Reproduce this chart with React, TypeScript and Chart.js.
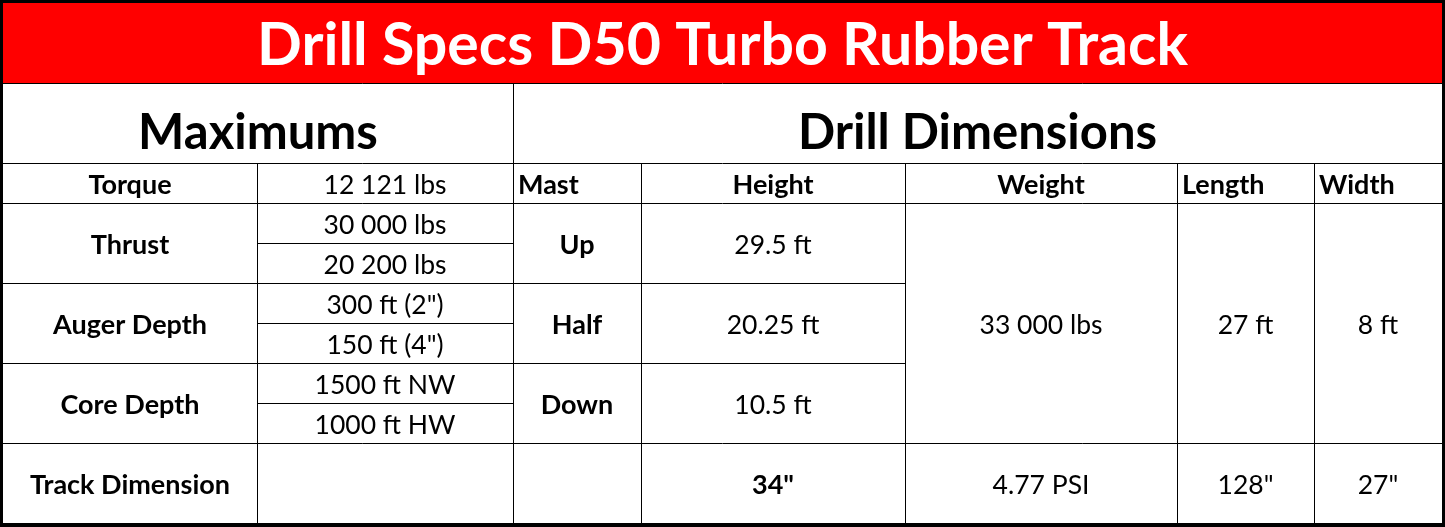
import React, { useEffect, useRef } from "react";
import { Chart, registerables } from "chart.js";

Chart.register(...registerables);

// ---------- data ----------
const TITLE = "Drill Specs D50 Turbo Rubber Track";
const SECTION_HEADERS = ["Maximums", "Drill Dimensions"];
const MAX_LABELS = ["Torque", "Thrust", "Auger Depth", "Core Depth", "Track Dimension"];
const MAX_VALUES: string[][] = [
  ["12 121 lbs"],
  ["30 000 lbs", "20 200 lbs"],
  ["300 ft (2\")", "150 ft (4\")"],
  ["1500 ft NW", "1000 ft HW"],
  [""],
];
const DIM_HEADERS = ["Mast", "Height", "Weight", "Length", "Width"];
const MAST_POSITIONS = ["Up", "Half", "Down"];
const MAST_HEIGHTS = ["29.5 ft", "20.25 ft", "10.5 ft"];
const DRILL_WEIGHT = "33 000 lbs";
const DRILL_LENGTH = "27 ft";
const DRILL_WIDTH = "8 ft";
const TRACK_VALUES = ["", "34\"", "4.77 PSI", "128\"", "27\""];

// ---------- layout (grid units on the chart's own linear scales) ----------
const W = 1445;
const H = 527;
const COL_X = [3, 257, 513, 641, 905, 1177, 1314, 1442];
const ROW_Y = [3, 83, 163, 203, 243, 283, 323, 363, 403, 443, 523];
// row-index spans of the "Maximums" groups
const MAX_SPANS = [
  [2, 3],
  [3, 5],
  [5, 7],
  [7, 9],
  [9, 10],
];
const FONT = "Lato";
const TITLE_SIZE = 59;
const SECTION_SIZE = 49;
const BOLD_SIZE = 27;
const REG_SIZE = 26.5;
const CAP = 0.7165;

const tablePlugin = {
  id: "tablePlugin",
  afterDraw(chart: any) {
    const ctx: CanvasRenderingContext2D = chart.ctx;
    const xs = chart.scales.x;
    const ys = chart.scales.y;
    const px = (v: number) => xs.getPixelForValue(v);
    const py = (v: number) => ys.getPixelForValue(v);

    ctx.save();
    ctx.fillStyle = "#000";
    ctx.fillRect(px(0), py(0), px(W) - px(0), py(H) - py(0));
    ctx.fillStyle = "#fff";
    ctx.fillRect(px(COL_X[0]), py(ROW_Y[0]), px(COL_X[7]) - px(COL_X[0]), py(ROW_Y[10]) - py(ROW_Y[0]));
    ctx.fillStyle = "#ff0000";
    ctx.fillRect(px(COL_X[0]), py(ROW_Y[0]), px(COL_X[7]) - px(COL_X[0]), py(ROW_Y[1]) - py(ROW_Y[0]));

    ctx.strokeStyle = "#000";
    ctx.lineWidth = 1;
    const hline = (y: number, x0: number, x1: number) => {
      const yy = Math.round(py(y)) + 0.5;
      ctx.beginPath();
      ctx.moveTo(px(x0), yy);
      ctx.lineTo(px(x1), yy);
      ctx.stroke();
    };
    const vline = (x: number, y0: number, y1: number) => {
      const xx = Math.round(px(x)) + 0.5;
      ctx.beginPath();
      ctx.moveTo(xx, py(y0));
      ctx.lineTo(xx, py(y1));
      ctx.stroke();
    };
    const L = COL_X[0];
    const R = COL_X[7];
    hline(ROW_Y[1], L, R);
    hline(ROW_Y[2], L, R);
    hline(ROW_Y[3], L, R);
    hline(ROW_Y[9], L, R);
    [ROW_Y[5], ROW_Y[7]].forEach((y) => hline(y, L, COL_X[4]));
    [ROW_Y[4], ROW_Y[6], ROW_Y[8]].forEach((y) => hline(y, COL_X[1], COL_X[2]));
    vline(COL_X[2], ROW_Y[1], ROW_Y[10]);
    [COL_X[1], COL_X[3], COL_X[4], COL_X[5], COL_X[6]].forEach((x) => vline(x, ROW_Y[2], ROW_Y[10]));

    const text = (
      s: string,
      x0: number,
      x1: number,
      y0: number,
      y1: number,
      size: number,
      bold: boolean,
      align: "center" | "left",
      color = "#000",
      dy = 1.5
    ) => {
      if (!s) return;
      ctx.font = `${bold ? "bold " : ""}${size}px ${FONT}`;
      ctx.fillStyle = color;
      ctx.textBaseline = "alphabetic";
      ctx.textAlign = align;
      const base = (py(y0) + py(y1)) / 2 + (size * CAP) / 2 + dy;
      const x = align === "center" ? (px(x0) + px(x1)) / 2 : px(x0) + 5;
      ctx.fillText(s, x, base);
    };

    text(TITLE, L, R, ROW_Y[0], ROW_Y[1], TITLE_SIZE, true, "center", "#fff", 0.5);
    text(SECTION_HEADERS[0], L, COL_X[2], ROW_Y[1], ROW_Y[2], SECTION_SIZE, true, "center", "#000", 8);
    text(SECTION_HEADERS[1], COL_X[2], R, ROW_Y[1], ROW_Y[2], SECTION_SIZE, true, "center", "#000", 8);

    MAX_LABELS.forEach((lab, i) => {
      const top = ROW_Y[MAX_SPANS[i][0]];
      const bottom = ROW_Y[MAX_SPANS[i][1]];
      text(lab, L, COL_X[1], top, bottom, BOLD_SIZE, true, "center");
      const vals = MAX_VALUES[i];
      const h = (bottom - top) / vals.length;
      vals.forEach((v, j) =>
        text(v, COL_X[1], COL_X[2], top + j * h, top + (j + 1) * h, REG_SIZE, false, "center")
      );
    });

    DIM_HEADERS.forEach((hd, i) => {
      const left = i === 0 || i === 3 || i === 4;
      text(hd, COL_X[2 + i], COL_X[3 + i], ROW_Y[2], ROW_Y[3], BOLD_SIZE, true, left ? "left" : "center");
    });
    MAST_POSITIONS.forEach((m, i) => {
      const top = ROW_Y[3 + 2 * i];
      const bottom = ROW_Y[5 + 2 * i];
      text(m, COL_X[2], COL_X[3], top, bottom, BOLD_SIZE, true, "center");
      text(MAST_HEIGHTS[i], COL_X[3], COL_X[4], top, bottom, REG_SIZE, false, "center");
    });
    text(DRILL_WEIGHT, COL_X[4], COL_X[5], ROW_Y[3], ROW_Y[9], REG_SIZE, false, "center");
    text(DRILL_LENGTH, COL_X[5], COL_X[6], ROW_Y[3], ROW_Y[9], REG_SIZE, false, "center");
    text(DRILL_WIDTH, COL_X[6], COL_X[7], ROW_Y[3], ROW_Y[9], REG_SIZE, false, "center");
    TRACK_VALUES.forEach((v, i) =>
      text(v, COL_X[2 + i], COL_X[3 + i], ROW_Y[9], ROW_Y[10], i === 1 ? BOLD_SIZE : REG_SIZE, i === 1, "center")
    );
    ctx.restore();
  },
};

export default function App() {
  const ref = useRef<HTMLCanvasElement | null>(null);
  useEffect(() => {
    document.body.style.margin = "0";
    if (!ref.current) return;
    const chart = new Chart(ref.current, {
      type: "scatter",
      data: { datasets: [{ data: [] }] },
      options: {
        animation: false,
        responsive: false,
        devicePixelRatio: 1,
        layout: { padding: 0 },
        plugins: { legend: { display: false }, tooltip: { enabled: false } },
        scales: {
          x: { type: "linear", min: 0, max: W, display: false },
          y: { type: "linear", min: 0, max: H, reverse: true, display: false },
        },
      },
      plugins: [tablePlugin],
    });
    return () => chart.destroy();
  }, []);
  return <canvas ref={ref} width={W} height={H} style={{ display: "block" }} />;
}
